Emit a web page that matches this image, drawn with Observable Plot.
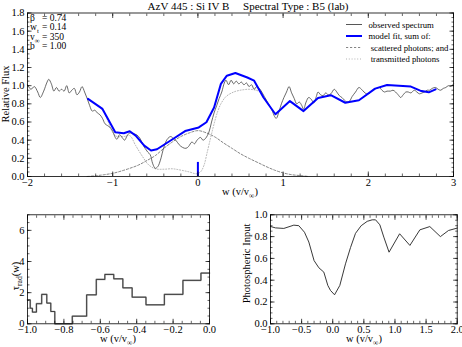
<!DOCTYPE html>
<html><head><meta charset="utf-8">
<script src="https://cdn.jsdelivr.net/npm/d3@7"></script>
<script src="https://cdn.jsdelivr.net/npm/@observablehq/plot@0.6"></script>
<style>
body{margin:0;background:#fff;}
#fig{position:relative;width:462px;height:347px;overflow:hidden;background:#fff;}
#fig svg{position:absolute;overflow:visible;}
</style></head><body><div id="fig"></div>
<script>
// ---------------- data ----------------
const titleText = "AzV 445 : Si IV B     Spectral Type : B5 (lab)";
const obsW = [-2.00,-1.96,-1.92,-1.88,-1.85,-1.81,-1.77,-1.75,-1.72,-1.69,-1.66,-1.63,-1.60,-1.57,-1.54,-1.51,-1.48,-1.45,-1.42,-1.39,-1.36,-1.33,-1.30,-1.27,-1.24,-1.21,-1.18,-1.15,-1.12,-1.09,-1.06,-1.03,-1.00,-0.97,-0.95,-0.92,-0.89,-0.86,-0.83,-0.80,-0.76,-0.72,-0.68,-0.65,-0.62,-0.59,-0.56,-0.53,-0.50,-0.47,-0.44,-0.40,-0.36,-0.32,-0.29,-0.26,-0.22,-0.18,-0.14,-0.11,-0.07,-0.04,-0.01,0.03,0.06,0.09,0.13,0.16,0.19,0.22,0.25,0.28,0.31,0.33,0.36,0.39,0.42,0.45,0.48,0.51,0.54,0.57,0.60,0.63,0.66,0.69,0.72,0.75,0.78,0.81,0.84,0.87,0.90,0.92,0.95,0.98,1.01,1.04,1.07,1.10,1.13,1.16,1.19,1.22,1.24,1.27,1.30,1.33,1.36,1.39,1.41,1.44,1.47,1.50,1.53,1.56,1.60,1.63,1.66,1.69,1.72,1.75,1.78,1.81,1.85,1.89,1.92,1.95,1.98,2.02,2.06,2.10,2.13,2.16,2.19,2.22,2.26,2.29,2.32,2.35,2.38,2.41,2.44,2.47,2.50,2.54,2.57,2.60,2.63,2.66,2.69,2.72,2.75,2.79,2.82,2.85,2.88,2.91,2.94,2.97,3.00];
const obsF = [1.01,0.96,0.99,0.93,0.87,0.94,1.04,1.07,1.02,0.94,0.98,0.94,0.96,0.94,1.00,0.92,0.95,0.97,0.90,0.93,0.99,0.93,0.86,0.78,0.72,0.73,0.70,0.68,0.64,0.58,0.56,0.54,0.50,0.43,0.41,0.46,0.43,0.40,0.45,0.48,0.47,0.46,0.42,0.36,0.31,0.27,0.24,0.14,0.09,0.11,0.18,0.32,0.41,0.44,0.42,0.40,0.35,0.32,0.31,0.33,0.38,0.36,0.40,0.43,0.40,0.42,0.49,0.60,0.70,0.78,0.86,0.93,1.03,1.06,1.01,1.06,1.02,1.05,1.02,1.04,1.01,1.03,0.99,1.01,0.96,0.99,0.97,0.93,0.88,0.83,0.78,0.73,0.66,0.64,0.71,0.80,0.87,0.93,0.99,0.92,0.86,0.80,0.82,0.78,0.74,0.82,0.87,0.85,0.81,0.88,0.93,0.90,0.89,0.92,0.90,0.91,0.96,0.93,0.89,0.87,0.84,0.82,0.83,0.88,0.93,0.98,0.96,0.93,0.91,0.92,0.96,0.97,0.98,0.95,0.93,0.94,0.94,0.95,0.93,0.90,0.87,0.90,0.93,0.93,0.92,0.95,0.93,0.91,0.92,0.93,0.95,0.95,0.97,0.98,0.96,0.95,0.97,0.98,1.00,0.99,1.02];
const fitW = [-1.29,-1.12,-0.97,-0.87,-0.80,-0.73,-0.63,-0.55,-0.48,-0.32,-0.15,0.01,0.10,0.19,0.27,0.34,0.44,0.58,0.66,0.77,0.91,1.08,1.24,1.41,1.56,1.73,1.89,2.08,2.22,2.50,2.61,2.71,2.79];
const fitF = [0.854,0.744,0.487,0.476,0.498,0.45,0.34,0.286,0.30,0.396,0.50,0.54,0.597,0.76,1.02,1.11,1.14,1.09,1.055,0.87,0.685,0.83,0.72,0.865,0.895,0.812,0.84,0.967,1.007,0.99,0.945,0.927,0.96];
const scatW = [-1.30,-1.20,-1.10,-1.00,-0.90,-0.80,-0.70,-0.60,-0.50,-0.40,-0.30,-0.20,-0.10,0.00,0.10,0.20,0.30,0.40,0.50,0.60,0.70,0.80,0.90,1.00,1.10,1.20,1.30];
const scatF = [0.0,0.008,0.02,0.035,0.06,0.09,0.125,0.175,0.23,0.31,0.38,0.44,0.48,0.505,0.48,0.435,0.37,0.31,0.25,0.20,0.155,0.11,0.07,0.04,0.02,0.01,0.0];
const transW = [-1.29,-1.12,-0.97,-0.87,-0.80,-0.73,-0.65,-0.58,-0.50,-0.40,-0.30,-0.20,-0.10,-0.02,0.03,0.07,0.11,0.15,0.19,0.23,0.27,0.33,0.42,0.50,0.60,0.68,0.74];
const transF = [0.85,0.73,0.45,0.44,0.45,0.34,0.22,0.13,0.085,0.08,0.085,0.07,0.05,0.03,0.05,0.12,0.27,0.43,0.58,0.71,0.80,0.88,0.93,0.95,0.96,0.95,0.93];
const markW = [0];
const markH = [0.155];
const tauEdges = [-1.0,-0.985,-0.973,-0.951,-0.922,-0.894,-0.872,-0.850,-0.754,-0.675,-0.622,-0.575,-0.526,-0.476,-0.425,-0.349,-0.248,-0.146,-0.047,0.0];
const tauVals = [1.54,1.0,0.75,1.29,1.89,1.33,0.79,0.0,0.49,1.86,2.85,3.17,2.89,2.31,1.71,1.22,1.89,2.79,3.26];
const photW = [-1.0,-0.92,-0.786,-0.625,-0.545,-0.454,-0.384,-0.30,-0.223,-0.143,-0.079,-0.036,0.029,0.114,0.205,0.286,0.366,0.457,0.554,0.634,0.688,0.757,0.821,0.905,1.075,1.24,1.40,1.56,1.73,1.86,2.0];
const photF = [0.893,0.88,0.875,0.905,0.90,0.84,0.75,0.58,0.514,0.474,0.352,0.306,0.266,0.352,0.55,0.70,0.83,0.90,0.94,0.954,0.954,0.908,0.795,0.657,0.826,0.719,0.862,0.892,0.80,0.856,0.878];
const topXTicks = [-2,-1,0,1,2,3];
const topYTicks = [0,0.2,0.4,0.6,0.8,1.0,1.2,1.4,1.6,1.8];
const blXTicks = [-1,-0.8,-0.6,-0.4,-0.2,0];
const blYTicks = [0,2,4,6];
const brXTicks = [-1,-0.5,0,0.5,1,1.5,2];
const brYTicks = [0,0.2,0.4,0.6,0.8,1.0];
const params = [["β","","0.74"],["w","t","0.14"],["v","∞","350"],["b","","1.00"]];
const legendLabels = ["observed spectrum","model fit, sum of:"," scattered photons; and"," transmitted photons"];

// ---------------- helpers ----------------
const FONT = "'Liberation Serif','Times New Roman',serif";
const fig = document.getElementById("fig");
const pts = (xs, ys) => xs.map((x, i) => ({x, y: ys[i]}));
const minor = (lo, hi, step) => d3.range(Math.ceil(lo / step - 1e-9), Math.floor(hi / step + 1e-9) + 1).map(i => +(i * step).toFixed(6));
const blank = () => "";

function axes(xd, yd, xMaj, yMaj, xStep, yStep, xFmt, yFmt) {
  const xMin = minor(xd[0], xd[1], xStep), yMin = minor(yd[0], yd[1], yStep);
  const m = [];
  for (const a of ["bottom", "top"]) {
    m.push(Plot.axisX(xMin, {anchor: a, tickSize: -2.5, tickFormat: blank, label: null, strokeWidth: 0.6}));
    m.push(Plot.axisX(xMaj, {anchor: a, tickSize: -4.5, tickFormat: blank, label: null, strokeWidth: 0.7}));
  }
  for (const a of ["left", "right"]) {
    m.push(Plot.axisY(yMin, {anchor: a, tickSize: -2.5, tickFormat: blank, label: null, strokeWidth: 0.6}));
    m.push(Plot.axisY(yMaj, {anchor: a, tickSize: -4.5, tickFormat: blank, label: null, strokeWidth: 0.7}));
  }
  m.push(Plot.axisX(xMaj, {anchor: "bottom", tickSize: 0, tickPadding: 2, tickFormat: xFmt, label: null, fontSize: 10.5}));
  m.push(Plot.axisY(yMaj, {anchor: "left", tickSize: 0, tickPadding: 3, tickFormat: yFmt, label: null, fontSize: 10.5}));
  return m;
}

function addText(svg, x, y, parts, {size = 10.5, anchor = "start", rotate = 0} = {}) {
  const t = d3.select(svg).append("text")
    .attr("transform", `translate(${x},${y})` + (rotate ? ` rotate(${rotate})` : ""))
    .attr("text-anchor", anchor).attr("font-family", FONT).attr("font-size", size)
    .attr("fill", "#000").style("white-space", "pre");
  let shifted = false;
  for (const [s, sub] of parts) {
    const sp = t.append("tspan").text(s);
    if (sub && !shifted) { sp.attr("dy", size * 0.3).attr("font-size", size * 0.72); shifted = true; }
    else if (sub) { sp.attr("font-size", size * 0.72); }
    else if (shifted) { sp.attr("dy", -size * 0.3); shifted = false; }
  }
  return t;
}

function place(svg, left, top) {
  svg.style.left = left + "px";
  svg.style.top = top + "px";
  fig.appendChild(svg);
}

const baseStyle = {fontFamily: FONT, fontSize: "10.5px", background: "none", color: "#000", overflow: "visible"};

// ---------------- top panel ----------------
const topSvg = Plot.plot({
  width: 462, height: 200,
  marginLeft: 27, marginRight: 9, marginTop: 12.5, marginBottom: 24,
  x: {domain: [-2, 3]}, y: {domain: [0, 1.8]},
  style: baseStyle,
  marks: [
    Plot.line(pts(scatW, scatF), {x: "x", y: "y", stroke: "#666", strokeWidth: 0.8, strokeDasharray: "2.2,1.8", curve: "catmull-rom"}),
    Plot.line(pts(transW, transF), {x: "x", y: "y", stroke: "#aaa", strokeWidth: 0.9, strokeDasharray: "1,1.8", curve: "catmull-rom"}),
    Plot.line(pts(obsW, obsF), {x: "x", y: "y", stroke: "#444", strokeWidth: 0.8, curve: "catmull-rom"}),
    Plot.line(pts(fitW, fitF), {x: "x", y: "y", stroke: "#0000ff", strokeWidth: 2}),
    Plot.ruleX(pts(markW, markH), {x: "x", y1: 0, y2: "y", stroke: "#0000ff", strokeWidth: 2}),
    Plot.frame({stroke: "#000", strokeWidth: 0.8}),
    ...axes([-2, 3], [0, 1.8], topXTicks, topYTicks, 0.2, 0.05, d3.format("d"), d3.format(".1f"))
  ]
});
place(topSvg, 0, 0);
addText(topSvg, 248, 9.5, [[titleText]], {size: 11, anchor: "middle"});
addText(topSvg, 240, 195, [["w (v/v"], ["∞", true], [")"]], {size: 10.5, anchor: "middle"});
addText(topSvg, 8.5, 94, [["Relative Flux"]], {size: 10.5, anchor: "middle", rotate: -90});
// parameters
params.forEach(([a, sub, val], i) => {
  const y = 20.5 + i * 9.6;
  addText(topSvg, 30, y, sub ? [[a], [sub, true]] : [[a]], {size: 9.5});
  addText(topSvg, 42, y, [["= " + val]], {size: 9.5});
});
// legend
const legStyles = [
  {stroke: "#444", w: 0.9, dash: null},
  {stroke: "#0000ff", w: 2, dash: null},
  {stroke: "#666", w: 0.8, dash: "2.2,1.8"},
  {stroke: "#aaa", w: 0.9, dash: "1,1.8"}
];
legendLabels.forEach((lab, i) => {
  const y = 24.5 + i * 11.5;
  const s = legStyles[i];
  d3.select(topSvg).append("line").attr("x1", 346).attr("x2", 362).attr("y1", y).attr("y2", y)
    .attr("stroke", s.stroke).attr("stroke-width", s.w).attr("stroke-dasharray", s.dash);
  addText(topSvg, 368.5, y + 3, [[lab]], {size: 8.7});
});

// ---------------- bottom left ----------------
const tauPts = tauVals.map((v, i) => ({x: tauEdges[i], y: v})).concat([{x: tauEdges[tauEdges.length - 1], y: tauVals[tauVals.length - 1]}]);
const blSvg = Plot.plot({
  width: 231, height: 147,
  marginLeft: 27, marginRight: 22, marginTop: 14.3, marginBottom: 23.7,
  x: {domain: [-1, 0]}, y: {domain: [0, 7]},
  style: baseStyle,
  marks: [
    Plot.line(tauPts, {x: "x", y: "y", stroke: "#aaa", strokeWidth: 1.7, curve: "step-after"}),
    Plot.line(tauPts, {x: "x", y: "y", stroke: "#222", strokeWidth: 0.8, curve: "step-after"}),
    Plot.frame({stroke: "#000", strokeWidth: 0.8}),
    ...axes([-1, 0], [0, 7], blXTicks, blYTicks, 0.05, 0.5, d3.format(".1f"), d3.format("d"))
  ]
});
place(blSvg, 0, 200);
addText(blSvg, 118, 141.5, [["w (v/v"], ["∞", true], [")"]], {size: 10.5, anchor: "middle"});
addText(blSvg, 19, 76, [["τ"], ["rad", true], ["(w)"]], {size: 10.5, anchor: "middle", rotate: -90});

// ---------------- bottom right ----------------
const brSvg = Plot.plot({
  width: 231, height: 147,
  marginLeft: 39, marginRight: 5.3, marginTop: 14.3, marginBottom: 23.7,
  x: {domain: [-1, 2]}, y: {domain: [0, 1]},
  style: baseStyle,
  marks: [
    Plot.line(pts(photW, photF), {x: "x", y: "y", stroke: "#222", strokeWidth: 0.9}),
    Plot.frame({stroke: "#000", strokeWidth: 0.8}),
    ...axes([-1, 2], [0, 1], brXTicks, brYTicks, 0.1, 0.05, d3.format(".1f"), d3.format(".1f"))
  ]
});
place(brSvg, 231, 200);
addText(brSvg, 133, 141.5, [["w (v/v"], ["∞", true], [")"]], {size: 10.5, anchor: "middle"});
addText(brSvg, 19, 63.5, [["Photospheric Input"]], {size: 10.5, anchor: "middle", rotate: -90});
</script></body></html>
